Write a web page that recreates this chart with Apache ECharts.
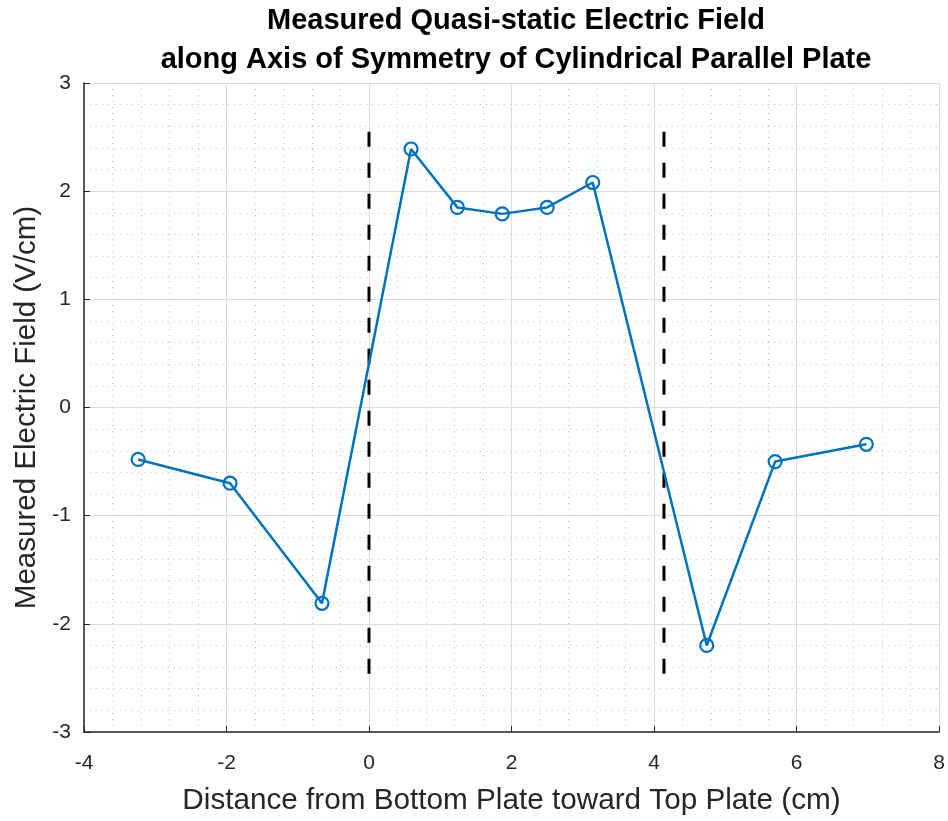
<!DOCTYPE html>
<html>
<head>
<meta charset="utf-8">
<script src="https://cdn.jsdelivr.net/npm/echarts@6/dist/echarts.min.js"></script>
<style>
  html, body { margin: 0; padding: 0; background: #fff; }
  #chart { width: 948px; height: 821px; }
</style>
</head>
<body>
<div id="chart"></div>
<script>
// measured points
var distanceCm = [-3.24, -1.95, -0.66, 0.59, 1.24, 1.87, 2.50, 3.14, 4.74, 5.70, 6.98];
var fieldVcm = [-0.48, -0.70, -1.81, 2.39, 1.85, 1.79, 1.85, 2.08, -2.20, -0.50, -0.34];
// plate positions (dashed markers)
var bottomPlateX = 0;
var topPlateX = 4.14;
var plateSpan = [2.55, -2.55];

var xTicks = { min: -4, max: 8, interval: 2 };
var yTicks = { min: -3, max: 3, interval: 1 };

var textColor = '#262626';
var lineBlue = '#0072BD';

var myChart = echarts.init(document.getElementById('chart'));

function plateLine(x) {
  return {
    type: 'line',
    data: [[x, plateSpan[0]], [x, plateSpan[1]]],
    symbol: 'none',
    silent: true,
    lineStyle: { color: '#000', width: 3, type: [15, 16] },
    z: 3
  };
}

myChart.setOption({
  backgroundColor: '#fff',
  animation: false,
  title: {
    text: 'Measured Quasi-static Electric Field\nalong Axis of Symmetry of Cylindrical Parallel Plate',
    left: 511,
    textAlign: 'center',
    top: -4,
    textStyle: {
      fontFamily: 'Liberation Sans',
      fontWeight: 'bold',
      fontSize: 29,
      lineHeight: 39,
      color: '#000'
    }
  },
  grid: { left: 84, right: 9, top: 83, bottom: 88 },
  xAxis: {
    type: 'value',
    min: xTicks.min,
    max: xTicks.max,
    interval: xTicks.interval,
    name: 'Distance from Bottom Plate toward Top Plate (cm)',
    nameLocation: 'middle',
    nameGap: 54,
    nameTextStyle: { fontFamily: 'Liberation Sans', fontSize: 29.7, color: textColor },
    axisLine: { onZero: false, lineStyle: { color: textColor, width: 1.5 } },
    axisTick: { inside: true, length: 6, lineStyle: { color: textColor } },
    axisLabel: { fontFamily: 'Liberation Sans', fontSize: 21, color: textColor, margin: 21 },
    splitLine: { show: true, lineStyle: { color: '#dcdcdc', width: 1 } },
    minorTick: { show: false, splitNumber: 5 },
    minorSplitLine: { show: true, lineStyle: { color: '#c4c4c4', width: 1, type: [1, 5] } }
  },
  yAxis: {
    type: 'value',
    min: yTicks.min,
    max: yTicks.max,
    interval: yTicks.interval,
    name: 'Measured Electric Field (V/cm)',
    nameLocation: 'middle',
    nameGap: 42,
    nameTextStyle: { fontFamily: 'Liberation Sans', fontSize: 29.5, color: textColor },
    axisLine: { onZero: false, lineStyle: { color: textColor, width: 1.5 } },
    axisTick: { inside: true, length: 6, lineStyle: { color: textColor } },
    axisLabel: { fontFamily: 'Liberation Sans', fontSize: 21, color: textColor, margin: 13 },
    splitLine: { show: true, lineStyle: { color: '#dcdcdc', width: 1 } },
    minorTick: { show: false, splitNumber: 5 },
    minorSplitLine: { show: true, lineStyle: { color: '#c4c4c4', width: 1, type: [1, 5] } }
  },
  series: [
    {
      name: 'Electric Field',
      type: 'line',
      data: distanceCm.map(function (x, i) { return [x, fieldVcm[i]]; }),
      symbol: 'circle',
      symbolSize: 13,
      lineStyle: { color: lineBlue, width: 2.5 },
      itemStyle: { color: 'rgba(0,0,0,0)', borderColor: lineBlue, borderWidth: 2.2 },
      z: 4
    },
    plateLine(bottomPlateX),
    plateLine(topPlateX)
  ]
});
</script>
</body>
</html>
